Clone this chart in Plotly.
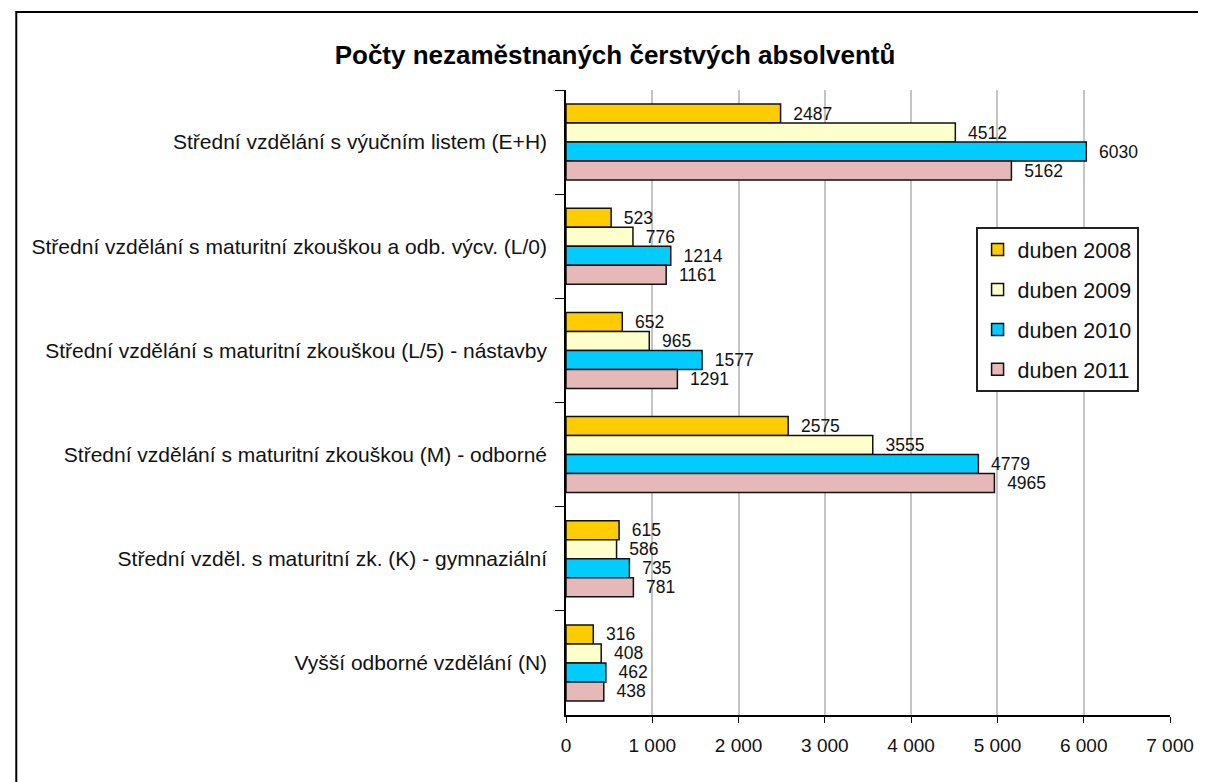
import plotly.graph_objects as go

categories = [
    "Střední vzdělání s výučním listem (E+H)",
    "Střední vzdělání s maturitní zkouškou a odb. výcv. (L/0)",
    "Střední vzdělání s maturitní zkouškou (L/5) - nástavby",
    "Střední vzdělání s maturitní zkouškou (M) - odborné",
    "Střední vzděl. s maturitní zk. (K) - gymnaziální",
    "Vyšší odborné vzdělání (N)",
]
series_names = ["duben 2008", "duben 2009", "duben 2010", "duben 2011"]
v2008 = [2487, 523, 652, 2575, 615, 316]
v2009 = [4512, 776, 965, 3555, 586, 408]
v2010 = [6030, 1214, 1577, 4779, 735, 462]
v2011 = [5162, 1161, 1291, 4965, 781, 438]
colors = ["#FFCC00", "#FFFFCC", "#00CCFF", "#E6B8B7"]
x_ticks = [0, 1000, 2000, 3000, 4000, 5000, 6000, 7000]

# page body has an 8px margin; figure coordinates below are screen minus 8
W, H = 1198, 774
L, R, T, B = 558, 1170, 82, 707

fig = go.Figure()
for i, (name, vals) in enumerate(zip(series_names, [v2008, v2009, v2010, v2011])):
    fig.add_trace(go.Bar(
        y=categories, x=vals, name=name, orientation="h",
        marker=dict(color=colors[i], line=dict(color="#111", width=1.5)),
        text=["  " + str(v) for v in vals], textposition="outside",
        textfont=dict(size=17.5, color="#111", family="Liberation Sans, Arial"),
        constraintext="none", cliponaxis=False,
        legendgroup=name,
    ))

def px_x(p):
    return (p - L) / (R - L)

def px_y(p):
    return (B - p) / (B - T)

fig.update_layout(
    width=W, height=H,
    margin=dict(l=L, r=W - R, t=T, b=H - B),
    paper_bgcolor="white", plot_bgcolor="white",
    font=dict(family="Liberation Sans, Arial", size=17, color="#111"),
    separators=", ",
    barmode="group", bargap=0.27, bargroupgap=0,
    title=dict(text="<b>Počty nezaměstnaných čerstvých absolventů</b>",
               font=dict(size=26, color="black"),
               x=607 / W, xanchor="center", xref="container",
               y=1 - 47 / H, yanchor="middle", yref="container"),
    legend=dict(x=px_x(973), y=px_y(219), xanchor="left", yanchor="top",
                bgcolor="white", bordercolor="#222", borderwidth=2,
                font=dict(size=21.5), tracegroupgap=9, traceorder="grouped"),
    xaxis=dict(range=[0, 7000], tickvals=x_ticks, tickformat=",d",
               showgrid=True, gridcolor="#C4C4C4", gridwidth=2,
               showline=True, linecolor="black", linewidth=1.5,
               ticks="outside", ticklen=6, tickcolor="black",
               tickfont=dict(size=19), ticklabelstandoff=6,
               zeroline=False, fixedrange=True),
    yaxis=dict(autorange="reversed", showline=True, linecolor="black", linewidth=1.5,
               ticks="outside", ticklen=9, tickcolor="black", tickson="boundaries",
               showgrid=False, tickfont=dict(size=21), ticklabelstandoff=13),
    shapes=[dict(type="rect", xref="paper", yref="paper",
                 x0=px_x(1), x1=px_x(1215), y0=px_y(4), y1=px_y(800),
                 line=dict(color="black", width=2), fillcolor="rgba(0,0,0,0)", layer="below")],
    showlegend=True,
)

fig.write_html("out.html")
